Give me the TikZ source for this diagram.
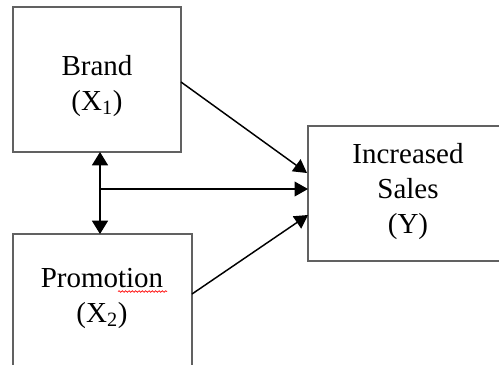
\documentclass[tikz,border=0pt]{standalone}
\usepackage{fontspec}
\setmainfont{Liberation Serif}
\usetikzlibrary{arrows.meta,decorations.pathmorphing}
\begin{document}
\begin{tikzpicture}[x=0.75pt,y=-0.75pt,
  box/.style={draw=black!62,line width=1.1pt},
  lbl/.style={font=\fontsize{21.75}{25.9}\selectfont,align=center,anchor=base,inner sep=0pt},
  conn/.style={draw=black,line width=1.1pt},
  tip/.style={-{Triangle[length=10pt,width=11pt]}}]
\useasboundingbox (0,0) rectangle (499,364);
\clip (0,0) rectangle (499,364);
\fill[white] (0,0) rectangle (499,364);
% boxes
\draw[box] (13,7) rectangle (181,152);
\draw[box] (13,234) rectangle (192,380);
\draw[box] (308,126) rectangle (520,261);
\coordinate (brandS) at (100,152);
\coordinate (promoN) at (100,234);
\coordinate (brandE) at (181,82);
\coordinate (promoE) at (192,294);
\coordinate (mid) at (100,189);
\coordinate (yA) at (307,173);
\coordinate (yB) at (308,189);
\coordinate (yC) at (308,215);
% texts
\node[lbl] (brandT) at (97,110) {Brand\\(X\textsubscript{1})};
\node[lbl] (promoT) at (102,322) {Promotion\\(X\textsubscript{2})};
\node[lbl] (salesT) at (408,233) {Increased\\Sales\\(Y)};
% spell-check squiggle
\draw[red,line width=0.5pt,decorate,decoration={snake,amplitude=0.6pt,segment length=2.5pt}] (118,291.5) -- (167,291.5);
% connectors
\draw[conn,{Triangle[length=10pt,width=12pt]}-{Triangle[length=10pt,width=12pt]}] (brandS) -- (promoN);
\draw[conn,tip] (brandE) -- (yA);
\draw[conn,tip] (mid) -- (yB);
\draw[conn,tip] (promoE) -- (yC);
\end{tikzpicture}
\end{document}
